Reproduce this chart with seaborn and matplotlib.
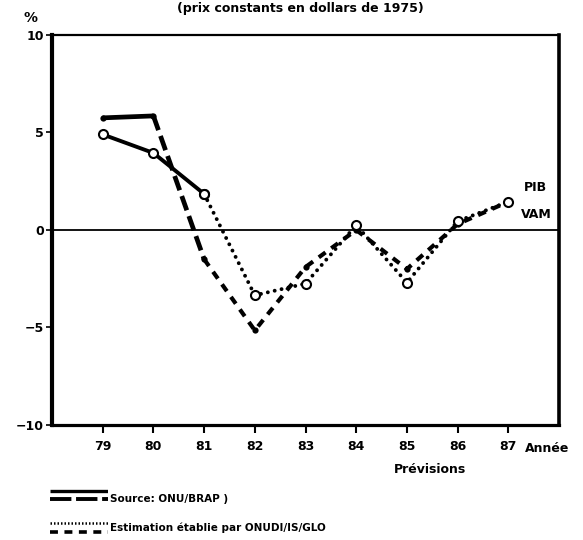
import pandas as pd
import matplotlib.pyplot as plt
import seaborn as sns

# donnees (taux de croissance, %)
annees_onu = [79, 80, 81]
annees_est = [81, 82, 83, 84, 85, 86, 87]
pib_onu = [4.9, 3.95, 1.85]
pib_est = [1.85, -3.35, -2.75, 0.25, -2.7, 0.45, 1.45]
vam_onu = [5.75, 5.85, -1.5]
vam_est = [-1.5, -5.15, -1.9, 0.0, -2.0, 0.3, 1.45]
ticks_x = [79, 80, 81, 82, 83, 84, 85, 86, 87]
ticks_y = [10, 5, 0, -5, -10]

sns.set_style('white')
plt.rcParams['font.family'] = ['DejaVu Sans']
plt.rcParams['font.weight'] = 'bold'
plt.rcParams['text.color'] = 'black'
plt.rcParams['xtick.color'] = 'black'
plt.rcParams['ytick.color'] = 'black'

fig = plt.figure(figsize=(5.83, 5.40), dpi=100)
ax = fig.add_axes([0.0892, 0.2130, 0.8697, 0.7222])

ax.axhline(0, color='black', lw=1.3, zorder=1)

# VAM - source ONU/BRAP (trait plein puis tirets longs)
sns.lineplot(x=annees_onu[:2], y=vam_onu[:2], ax=ax, color='black', lw=3.4,
             marker='o', markersize=4.5, markeredgewidth=0, solid_capstyle='butt')
sns.lineplot(x=annees_onu[1:], y=vam_onu[1:], ax=ax, color='black', lw=3.4,
             linestyle=(0, (3.2, 1.3)), dash_capstyle='butt')
# VAM - estimation (tirets)
sns.lineplot(x=annees_est, y=vam_est, ax=ax, color='black', lw=3.0,
             linestyle=(0, (2.0, 1.7)), marker='o', markersize=4.5,
             markeredgewidth=0)

# PIB - source ONU/BRAP (trait plein)
sns.lineplot(x=annees_onu, y=pib_onu, ax=ax, color='black', lw=2.8,
             marker='o', markersize=6.5, markerfacecolor='white',
             markeredgecolor='black', markeredgewidth=1.5, zorder=5)
# PIB - estimation (pointille)
sns.lineplot(x=annees_est, y=pib_est, ax=ax, color='black', lw=2.8,
             linestyle=(0, (0.01, 1.8)), dash_capstyle='round',
             marker='o', markersize=6.5, markerfacecolor='white',
             markeredgecolor='black', markeredgewidth=1.5, zorder=5)

ax.set_xlim(78, 88)
ax.set_ylim(-10, 10)
ax.set_xticks(ticks_x)
ax.set_xticklabels([str(t) for t in ticks_x], fontsize=9, fontweight='bold')
ax.set_yticks(ticks_y)
ax.set_yticklabels(['10', '5', '0', '\u22125', '\u221210'], fontsize=9,
                   fontweight='bold')
ax.set_xlabel('')
ax.set_ylabel('')
ax.tick_params(axis='x', direction='out', length=6, width=1.5, pad=5,
               bottom=True, colors='black')
ax.tick_params(axis='y', direction='out', length=4, width=1.2, pad=2,
               left=True, colors='black')

for cote, lw in [('left', 3.0), ('bottom', 2.3), ('top', 1.6), ('right', 2.6)]:
    ax.spines[cote].set_visible(True)
    ax.spines[cote].set_color('black')
    ax.spines[cote].set_linewidth(lw)

ax.text(87.3, 2.2, 'PIB', fontsize=9, fontweight='bold', va='center',
        color='black')
ax.text(87.25, 0.8, 'VAM', fontsize=9, fontweight='bold', va='center',
        color='black')

fig.text(0.515, 0.985, '(prix constants en dollars de 1975)', ha='center',
         va='center', fontsize=9, fontweight='bold')
fig.text(0.052, 0.967, '%', ha='center', va='center', fontsize=10,
         fontweight='bold')
fig.text(0.900, 0.170, 'Année', ha='left', va='center', fontsize=9,
         fontweight='bold')
fig.text(0.738, 0.130, 'Prévisions', ha='center', va='center', fontsize=9,
         fontweight='bold')

# legende dessinee a la main sous le graphique
lg = fig.add_axes([0.085, 0.0, 0.10, 0.10])
lg.set_xlim(0, 1)
lg.set_ylim(540 * 0.10, 0)
lg.axis('off')
lg.plot([0, 1], [540 * 0.10 - 49, 540 * 0.10 - 49], color='black', lw=2.4,
        solid_capstyle='butt')
lg.plot([0, 1], [540 * 0.10 - 41, 540 * 0.10 - 41], color='black', lw=2.8,
        linestyle=(0, (5.5, 1.2)), dash_capstyle='butt')
lg.plot([0, 1], [540 * 0.10 - 17, 540 * 0.10 - 17], color='black', lw=1.8,
        linestyle=(0, (0.6, 0.8)))
lg.plot([0, 1], [540 * 0.10 - 8, 540 * 0.10 - 8], color='black', lw=2.6,
        linestyle=(0, (2.2, 1.8)), dash_capstyle='butt')

fig.text(0.189, 1 - 499 / 540, 'Source: ONU/BRAP )', ha='left', va='center',
         fontsize=7.5, fontweight='bold')
fig.text(0.189, 1 - 528 / 540, 'Estimation établie par ONUDI/IS/GLO',
         ha='left', va='center', fontsize=7.5, fontweight='bold')

fig.savefig('out.png', dpi=100)
